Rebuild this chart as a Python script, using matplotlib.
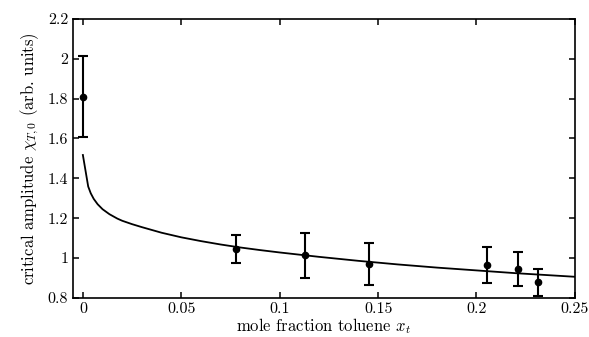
import numpy as np
import matplotlib
matplotlib.use("Agg")
import matplotlib.pyplot as plt

plt.rcParams['font.family'] = ['cmr10', 'DejaVu Serif']
plt.rcParams['mathtext.fontset'] = 'cm'
plt.rcParams['axes.formatter.use_mathtext'] = True

# measured amplitudes
x_pts = [0.0, 0.0776, 0.113, 0.1455, 0.2056, 0.2211, 0.2312]
y_pts = [1.81, 1.045, 1.013, 0.969, 0.965, 0.945, 0.878]
y_err = [0.205, 0.071, 0.113, 0.104, 0.091, 0.086, 0.067]

# fit curve
x_fit = [0.0, 0.0027, 0.004, 0.0055, 0.0075, 0.01, 0.0135, 0.0175, 0.02, 0.025, 0.03,
         0.04, 0.05, 0.06, 0.07, 0.08, 0.09, 0.10, 0.11, 0.12, 0.13, 0.14, 0.15,
         0.16, 0.17, 0.18, 0.19, 0.20, 0.21, 0.22, 0.23, 0.24, 0.25]
y_fit = [1.517, 1.359, 1.325, 1.297, 1.270, 1.245, 1.220, 1.198, 1.187, 1.170, 1.155,
         1.127, 1.104, 1.085, 1.068, 1.053, 1.040, 1.028, 1.017, 1.006, 0.996, 0.986, 0.977,
         0.968, 0.960, 0.952, 0.945, 0.938, 0.931, 0.924, 0.918, 0.912, 0.906]

xticks = [0, 0.05, 0.1, 0.15, 0.2, 0.25]
xticklabels = ['0', '0.05', '0.1', '0.15', '0.2', '0.25']
yticks = [0.8, 1.0, 1.2, 1.4, 1.6, 1.8, 2.0, 2.2]
yticklabels = ['0.8', '1', '1.2', '1.4', '1.6', '1.8', '2', '2.2']

fig = plt.figure(figsize=(5.89, 3.37), dpi=100)
ax = fig.add_axes([0.124, 0.116, 0.852, 0.828])

ax.plot(x_fit, y_fit, color='black', lw=1.3)
ax.errorbar(x_pts, y_pts, yerr=y_err, fmt='o', color='black', ms=4.5,
            elinewidth=1.5, capsize=3.5, capthick=1.5)

ax.set_xlim(-0.005, 0.25)
ax.set_ylim(0.8, 2.2)
ax.set_xticks(xticks)
ax.set_xticklabels(xticklabels)
ax.set_yticks(yticks)
ax.set_yticklabels(yticklabels)
ax.tick_params(direction='in', top=True, right=True, length=4, width=1.1, labelsize=11.5)
for s in ax.spines.values():
    s.set_linewidth(1.2)

ax.set_xlabel('mole fraction toluene $x_t$', fontsize=12, labelpad=0)
ax.set_ylabel(r'critical amplitude $\chi_{T,0}$ (arb. units)', fontsize=12, labelpad=5)

fig.savefig('out.png', dpi=100)
